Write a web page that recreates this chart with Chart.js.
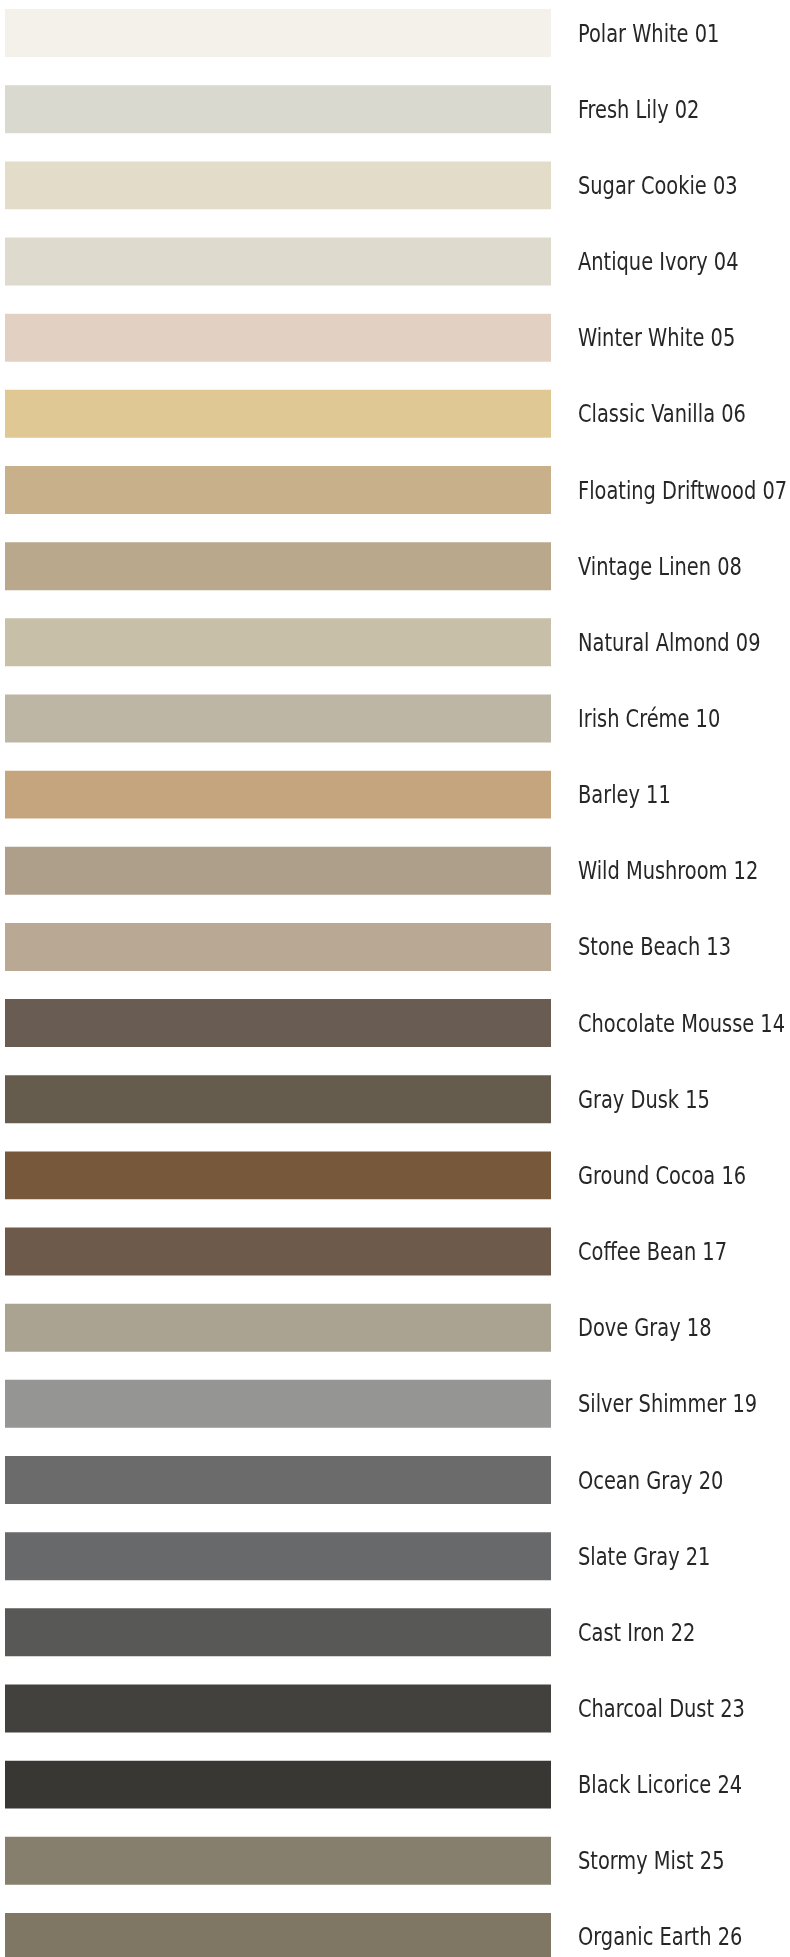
<!DOCTYPE html>
<html>
<head>
<meta charset="utf-8">
<script src="https://cdn.jsdelivr.net/npm/chart.js@4/dist/chart.umd.min.js"></script>
<style>
  html, body { margin: 0; padding: 0; background: #fff; overflow: hidden; width: 790px; height: 1957px; }
  #swatchChart { position: absolute; left: 0; top: -5px; }
</style>
</head>
<body>
<canvas id="swatchChart" width="1000" height="1980"></canvas>
<script>
const names = [
  'Polar White 01', 'Fresh Lily 02', 'Sugar Cookie 03', 'Antique Ivory 04', 'Winter White 05',
  'Classic Vanilla 06', 'Floating Driftwood 07', 'Vintage Linen 08', 'Natural Almond 09', 'Irish Créme 10',
  'Barley 11', 'Wild Mushroom 12', 'Stone Beach 13', 'Chocolate Mousse 14', 'Gray Dusk 15',
  'Ground Cocoa 16', 'Coffee Bean 17', 'Dove Gray 18', 'Silver Shimmer 19', 'Ocean Gray 20',
  'Slate Gray 21', 'Cast Iron 22', 'Charcoal Dust 23', 'Black Licorice 24', 'Stormy Mist 25',
  'Organic Earth 26',
];
const swatches = [
  '#f3f1ea', '#d9d9cf', '#e3dcc8', '#dedace', '#e2d1c2',
  '#e0c895', '#c8b08a', '#b9a88c', '#c7bfa8', '#beb6a4',
  '#c5a57e', '#ae9f8a', '#b9a893', '#695c53', '#665c4d',
  '#77583a', '#6e5a4a', '#aaa392', '#959593', '#6a6b6a',
  '#68696b', '#585856', '#42413d', '#393734', '#877f6d',
  '#7f7763',
];
// every swatch is a full-width bar
const fill = [1, 1, 1, 1, 1, 1, 1, 1, 1, 1, 1, 1, 1, 1, 1, 1, 1, 1, 1, 1, 1, 1, 1, 1, 1, 1];

const family = "'Liberation Sans Narrow', 'DejaVu Sans Condensed', 'Arial Narrow', sans-serif";
const fontSize = 25;

// reference labels are a narrow face; squeeze whatever we got to the same width
const probe = document.createElement('canvas').getContext('2d');
probe.font = fontSize + 'px ' + family;
const squeeze = Math.min(1, 207 / probe.measureText('Chocolate Mousse 14').width);

const squeezeLabels = {
  id: 'squeezeLabels',
  beforeDraw(chart) {
    const y = chart.scales.y;
    if (y._squeezed) return;
    y._squeezed = true;
    const orig = y.drawLabels.bind(y);
    y.drawLabels = function (area) {
      const ctx = this.ctx, x0 = this.left + this.options.ticks.padding;
      ctx.save();
      ctx.translate(x0, 2);
      ctx.scale(squeeze, 1);
      ctx.translate(-x0, 0);
      orig(area);
      ctx.restore();
    };
  },
};

new Chart(document.getElementById('swatchChart'), {
  type: 'bar',
  data: {
    labels: names,
    datasets: [{
      data: fill,
      backgroundColor: swatches,
      borderWidth: 0,
      barPercentage: 0.63,
      categoryPercentage: 1,
    }],
  },
  plugins: [squeezeLabels],
  options: {
    indexAxis: 'y',
    responsive: false,
    animation: false,
    devicePixelRatio: 1,
    layout: { padding: { left: 5, right: 0, top: 0, bottom: 0 } },
    plugins: { legend: { display: false }, tooltip: { enabled: false } },
    scales: {
      x: { display: false, min: 0, max: 1 },
      y: {
        position: 'right',
        grid: { display: false, drawTicks: false },
        border: { display: false },
        ticks: { color: '#262626', padding: 27, font: { family: family, size: fontSize } },
        afterFit(scale) {
          // canvas is 1000 wide, the page shows 790; bars end at x=551
          scale.width = 449;
          scale.paddingTop = 0;
          scale.paddingBottom = 0;
        },
      },
    },
  },
});
</script>
</body>
</html>
